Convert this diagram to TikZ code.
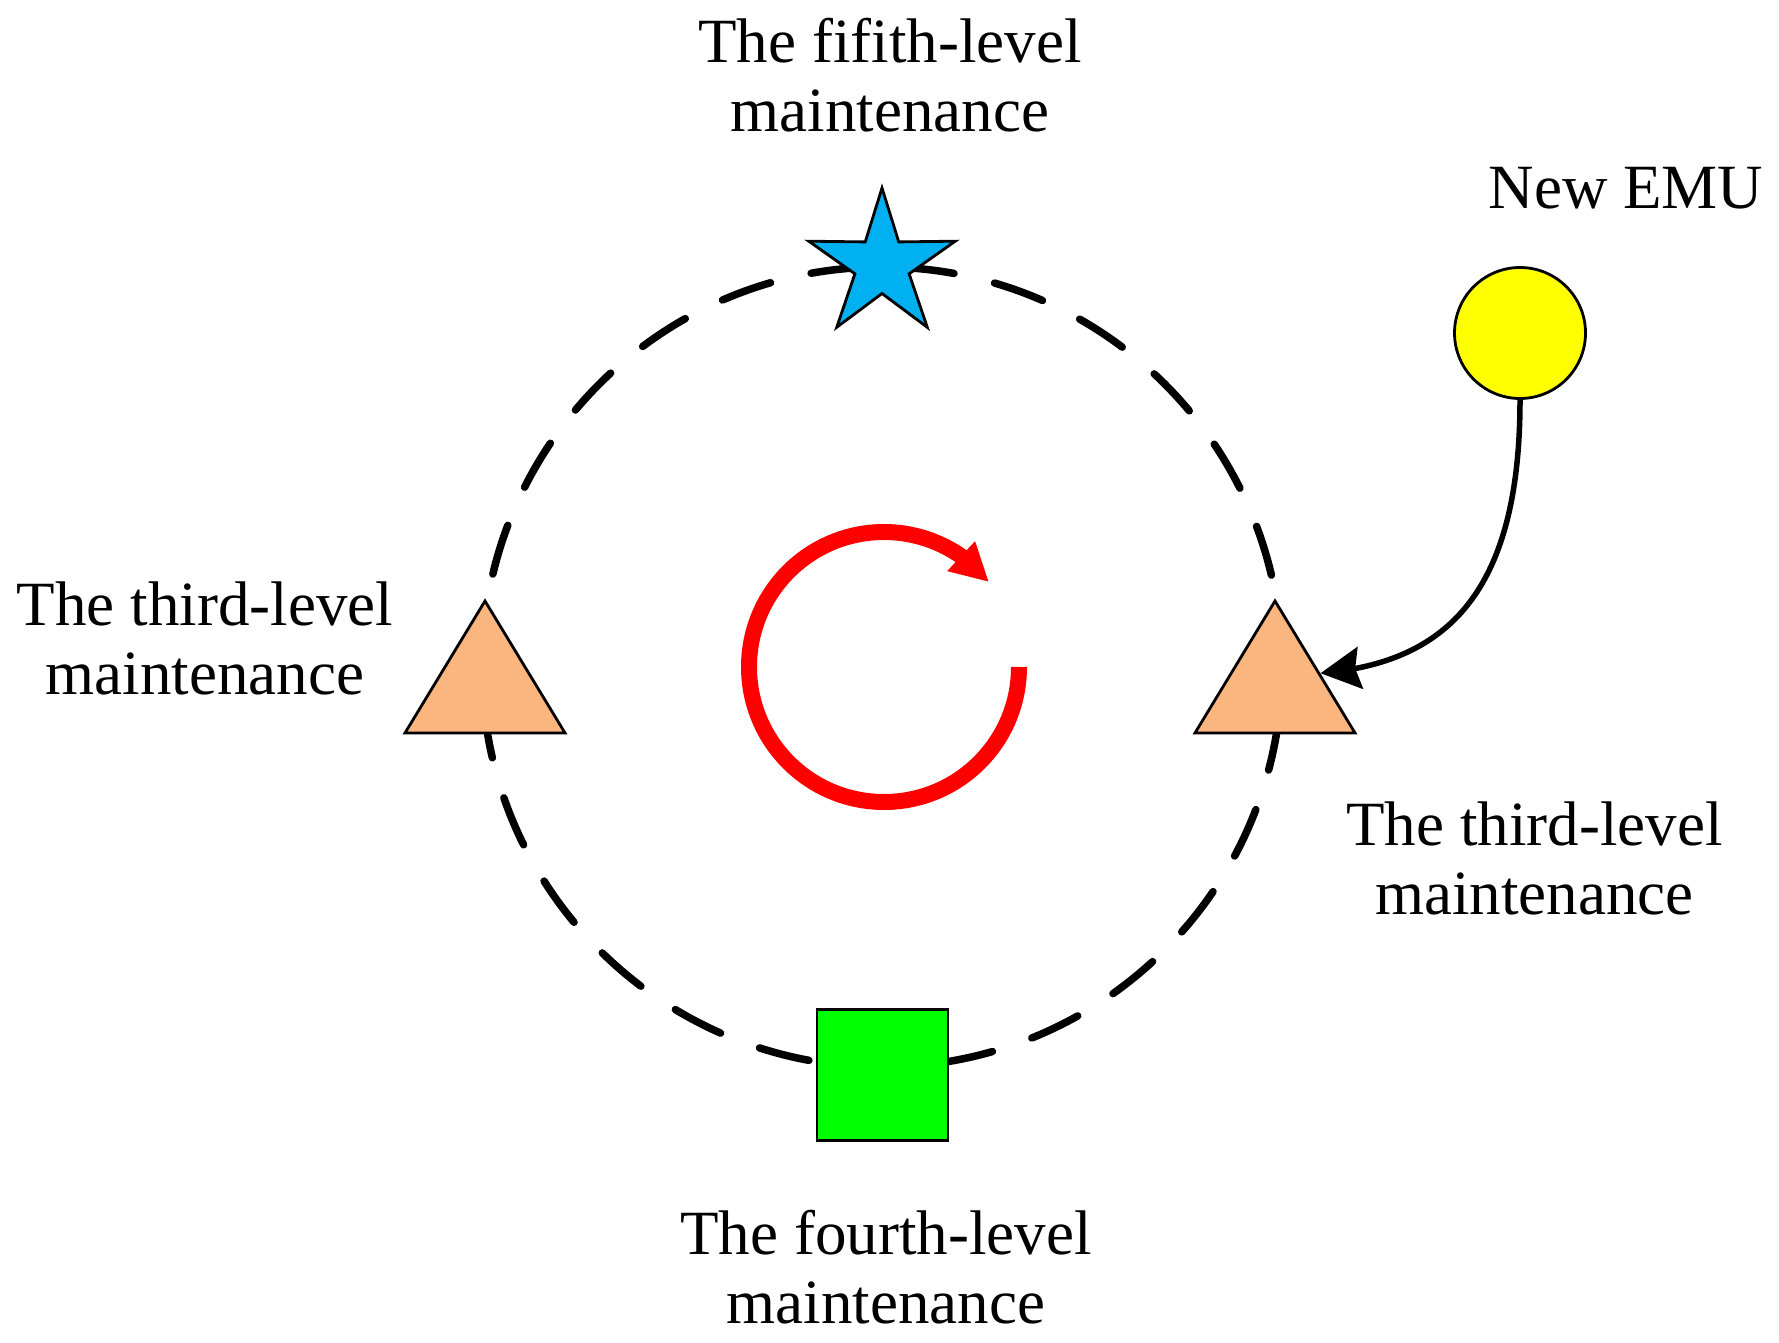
\documentclass[tikz,border=0pt]{standalone}
\usepackage{fontspec}
\setmainfont{Liberation Serif}
\usetikzlibrary{shapes.geometric, arrows.meta, bending}
\definecolor{starblue}{RGB}{0,176,240}
\definecolor{peach}{RGB}{251,182,127}
\definecolor{emuyellow}{RGB}{255,255,0}
\definecolor{boxgreen}{RGB}{0,255,0}
\begin{document}
\begin{tikzpicture}[x=1pt,y=1pt,
  lbl/.style={font=\fontsize{63}{69}\selectfont, align=center, inner sep=0pt, anchor=base},
  shapeline/.style={draw=black, line width=2.8pt},
  dashring/.style={draw=black, line width=7.5pt, dash pattern=on 51pt off 41.67pt, line cap=round},
  tri/.style={shapeline, fill=peach, regular polygon, regular polygon sides=3, minimum size=176pt, inner sep=0pt, xscale=1.05},
  starnode/.style={shapeline, fill=starblue, star, star points=5, star point ratio=2.7, minimum size=154pt, inner sep=0pt},
  sqnode/.style={shapeline, fill=boxgreen, rectangle, minimum size=131pt, inner sep=0pt},
  emunode/.style={shapeline, fill=emuyellow, circle, minimum size=131pt, inner sep=0pt},
  feed/.style={draw=black, line width=5.5pt, -{Stealth[length=40pt,width=42pt,inset=5pt]}},
  cycle/.style={draw=red, line width=16pt, -{Triangle[length=38pt,width=38pt,flex=1]}}
]
\useasboundingbox (0,0) rectangle (1779,1342);
\coordinate (C) at (882,675);
\coordinate (rc) at (884,675);
\draw[dashring] (C) circle[radius=400pt];

\node[starnode] (fifth) at (882,1077) {};
\node[tri] (tri1) at (485,653) {};
\node[tri] (tri2) at (1275,653) {};
\node[sqnode] (fourth) at (882.5,267) {};
\node[emunode] (emu) at (1520,1009) {};

\node[lbl] (lfifth) at (890,1210) {The fifith-level\\maintenance};
\node[lbl] (lemu) at (1626,1133) {New EMU};
\node[lbl] (ltri1) at (205,647) {The third-level\\maintenance};
\node[lbl] (ltri2) at (1534.5,428) {The third-level\\maintenance};
\node[lbl] (lfourth) at (886,19) {The fourth-level\\maintenance};

\draw[cycle] (rc) ++(0:135pt) arc[start angle=0, end angle=-321, radius=135pt];
\draw[feed] (emu.south) .. controls +(0,-200) and +(120,10) .. (tri2.20);
\end{tikzpicture}
\end{document}
